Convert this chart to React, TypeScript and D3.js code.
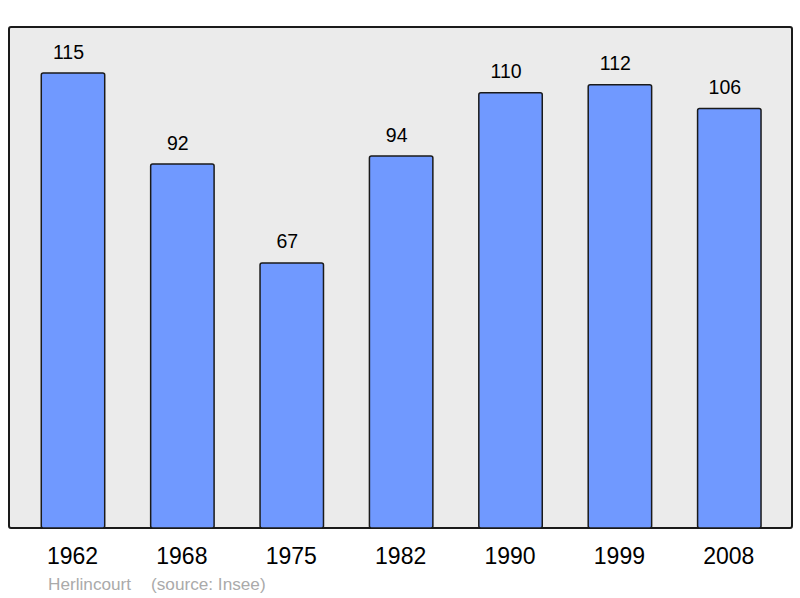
import React from "react";
import * as d3 from "d3";

const years = ["1962", "1968", "1975", "1982", "1990", "1999", "2008"];
const population = [115, 92, 67, 94, 110, 112, 106];
const townName = "Herlincourt";
const sourceText = "(source: Insee)";

const W = 800;
const H = 598;

export default function App() {
  const x = d3.scaleBand<string>().domain(years).range([18.3, 784]).paddingInner(0.42).paddingOuter(0.21);
  const y = d3.scaleLinear().domain([0, 115]).range([528, 73]);
  const font = "'Liberation Sans', Arial, sans-serif";
  return (
    <svg width={W} height={H} style={{ position: "absolute", left: 0, top: 0 }} fontFamily={font}>
      <rect x={0} y={0} width={W} height={H} fill="#ffffff" />
      <rect x={9} y={27} width={783} height={501} rx={2} ry={2} fill="#ebebeb" stroke="#1a1a1a" strokeWidth={2} />
      {years.map((yr, i) => {
        const bx = x(yr)!;
        const bw = x.bandwidth();
        const top = y(population[i]);
        return (
          <g key={yr}>
            <rect x={bx} y={top} width={bw} height={y(0) - top} rx={2} ry={2} fill="#7099ff" stroke="#1a1a1a" strokeWidth={1.5} />
            <text x={bx + bw / 2 - 4.5} y={top - 14.5} textAnchor="middle" fontSize={19.5} fill="#000">{population[i]}</text>
            <text x={bx + bw / 2 - 0.5} y={564} textAnchor="middle" fontSize={23} fill="#000">{yr}</text>
          </g>
        );
      })}
      <text x={48} y={590} fontSize={17.2} fill="#aaaaaa">{townName}</text>
      <text x={151} y={590} fontSize={17.2} fill="#aaaaaa">{sourceText}</text>
    </svg>
  );
}
